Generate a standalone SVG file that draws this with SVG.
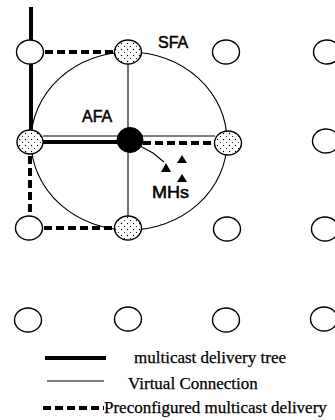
<svg xmlns="http://www.w3.org/2000/svg" width="335" height="420" viewBox="0 0 335 420">
<style>
.node{fill:#fff;stroke:#000;stroke-width:1.4}
.st{fill:url(#dots);stroke:#000;stroke-width:1.4}
.tree{stroke:#000;stroke-width:4;fill:none}
.vc{stroke:#000;stroke-width:1.1;fill:none}
.pre{stroke:#000;stroke-width:4;stroke-dasharray:8 4;fill:none}
.lbl{font-family:"Liberation Sans",Arial,sans-serif;font-size:16px;fill:#000;stroke:#000;stroke-width:0.5}
.leg{font-family:"Liberation Serif","Times New Roman",serif;font-size:17px;fill:#000;stroke:#000;stroke-width:0.25}
</style>
<defs>
<pattern id="dots" width="6" height="6" patternUnits="userSpaceOnUse">
<rect width="6" height="6" fill="#fff"/>
<circle cx="1.5" cy="1.5" r="0.7" fill="#000"/>
<circle cx="4.5" cy="4.5" r="0.6" fill="#000"/>
</pattern>
</defs>
<rect width="335" height="420" fill="#fff"/>
<g id="connectors">
<ellipse cx="129" cy="141" rx="98" ry="89" class="vc"/>
<line x1="31" y1="7" x2="31" y2="40" class="tree"/>
<line x1="31" y1="64" x2="31" y2="130" class="tree"/>
<line x1="43" y1="142" x2="117" y2="142" class="tree"/>
<line x1="43" y1="136" x2="117" y2="136" class="vc"/>
<line x1="141" y1="136" x2="215" y2="136" class="vc"/>
<line x1="128" y1="63" x2="128" y2="128" class="vc"/>
<line x1="128" y1="153" x2="128" y2="216" class="vc"/>
<line x1="45" y1="52" x2="115" y2="52" class="pre"/>
<line x1="30" y1="156" x2="30" y2="216" class="pre"/>
<line x1="44" y1="228" x2="115" y2="228" class="pre"/>
<line x1="143" y1="143" x2="215" y2="143" class="pre"/>
<polyline points="140,146 153,153 164,162" class="vc" stroke-width="1.4"/>
</g>
<g id="n-r1c1"><ellipse cx="30" cy="52" rx="13.5" ry="12" class="node"/></g>
<g id="n-r1c2"><ellipse cx="128" cy="52" rx="13.5" ry="12" class="st"/></g>
<g id="n-r1c3"><ellipse cx="226" cy="52" rx="13.5" ry="12" class="node"/></g>
<g id="n-r1c4"><ellipse cx="327" cy="52" rx="13.5" ry="12" class="node"/></g>
<g id="n-r2c1"><ellipse cx="30" cy="142" rx="13" ry="12" class="st"/></g>
<g id="n-r2c2"><ellipse cx="130" cy="140" rx="13" ry="12.5" fill="#000" stroke="#000"/></g>
<g id="n-r2c3"><ellipse cx="228" cy="143" rx="13.5" ry="12" class="st"/></g>
<g id="n-r2c4"><ellipse cx="326" cy="141" rx="13.5" ry="12" class="node"/></g>
<g id="n-r3c1"><ellipse cx="29" cy="228" rx="13.5" ry="12" class="node"/></g>
<g id="n-r3c2"><ellipse cx="128" cy="228" rx="13.5" ry="12" class="st"/></g>
<g id="n-r3c3"><ellipse cx="227" cy="229" rx="13.5" ry="12" class="node"/></g>
<g id="n-r3c4"><ellipse cx="325" cy="229" rx="13.5" ry="12" class="node"/></g>
<g id="n-r4c1"><ellipse cx="28" cy="320" rx="13.5" ry="12" class="node"/></g>
<g id="n-r4c2"><ellipse cx="128" cy="319" rx="13.5" ry="12" class="node"/></g>
<g id="n-r4c3"><ellipse cx="226" cy="320" rx="13.5" ry="12" class="node"/></g>
<g id="n-r4c4"><ellipse cx="324" cy="319" rx="13.5" ry="12" class="node"/></g>
<g id="mhs">
<polygon points="166,163 161,172 171,172" fill="#000"/>
<polygon points="182,155 177,163 187,163" fill="#000"/>
<polygon points="182,174 177,182 187,182" fill="#000"/>
<text x="152" y="198" class="lbl" textLength="37" lengthAdjust="spacingAndGlyphs">MHs</text>
</g>
<text x="82" y="122" class="lbl">AFA</text>
<text x="158" y="48" class="lbl">SFA</text>
<g id="legend">
<line x1="45" y1="358" x2="106" y2="358" class="tree"/>
<text x="134" y="363" class="leg">multicast delivery tree</text>
<line x1="47" y1="381" x2="104" y2="381" class="vc"/>
<text x="128" y="389" class="leg">Virtual Connection</text>
<line x1="43" y1="408" x2="104" y2="408" class="pre" stroke-dasharray="12 3"/>
<text x="104" y="413" class="leg">Preconfigured multicast delivery</text>
</g>
</svg>
